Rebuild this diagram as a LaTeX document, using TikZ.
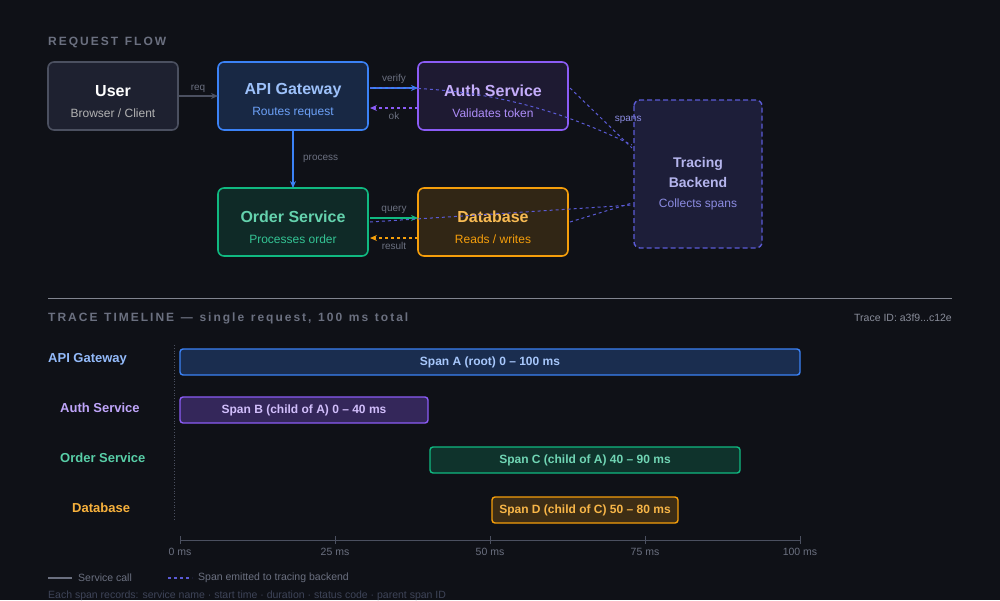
\documentclass[tikz,border=0pt]{standalone}
\usepackage{fontspec}
\setmainfont{Liberation Sans}
\usetikzlibrary{arrows.meta}
\definecolor{bg}{HTML}{0F1117}
\definecolor{muted}{HTML}{6B7080}
\definecolor{gblue}{HTML}{3B82F6}
\definecolor{gpurp}{HTML}{8B5CF6}
\definecolor{ggreen}{HTML}{10B981}
\definecolor{gorange}{HTML}{F59E0B}
\definecolor{span}{HTML}{5B5BD6}
\definecolor{gray1}{HTML}{4B5060}
\definecolor{userfill}{HTML}{1E2130}
\definecolor{foot}{HTML}{3E4458}
\begin{document}
\begin{tikzpicture}[x=1pt,y=-1pt,
 ttl/.style={font=\fontsize{16}{18}\selectfont\bfseries},
 sub/.style={font=\fontsize{12}{14}\selectfont},
 lbl/.style={font=\fontsize{10}{12}\selectfont,text=muted},
 bar/.style={draw,line width=1.4pt,rounded corners=3pt,font=\fontsize{12}{14}\selectfont\bfseries},
 spn/.style={draw=span,dashed,line width=1pt},
 svc/.style={font=\fontsize{13}{15}\selectfont\bfseries,anchor=west,inner sep=0},
 tick/.style={font=\fontsize{10.5}{12}\selectfont,text=muted},
 arr/.style={line width=1.6pt,-{Stealth[length=7pt,width=6pt]}}]
\fill[bg] (0,0) rectangle (1000,600);
\useasboundingbox (0,0) rectangle (1000,600);
\node[anchor=west,inner sep=0,font=\fontsize{12}{14}\selectfont\bfseries,text=muted] (h1) at (48,42) {R\,E\,Q\,U\,E\,S\,T\ \ F\,L\,O\,W};
% boxes
\draw[line width=1.6pt,rounded corners=6pt,draw=gray1,fill=userfill] (48,62) rectangle (178,130);
\node[text=white,ttl] (user) at (113,91) {User};
\node[sub,text=gray!60] (users) at (113,113) {Browser / Client};
\draw[line width=1.6pt,rounded corners=6pt,draw=gblue,fill=gblue!20!bg] (218,62) rectangle (368,130);
\node[ttl,text=gblue!50!white] (api) at (293,91) {API Gateway};
\node[sub,text=gblue!75!white] (apis) at (293,113) {Routes request};
\draw[line width=1.6pt,rounded corners=6pt,draw=gpurp,fill=gpurp!12!bg] (418,62) rectangle (568,130);
\node[ttl,text=gpurp!50!white] (auth) at (493,91) {Auth Service};
\node[sub,text=gpurp!70!white] (auths) at (493,113) {Validates token};
\draw[line width=1.6pt,rounded corners=6pt,draw=ggreen,fill=ggreen!15!bg] (218,188) rectangle (368,256);
\node[ttl,text=ggreen!65!white] (ord) at (293,217) {Order Service};
\node[sub,text=ggreen!85!white] (ords) at (293,239) {Processes order};
\draw[line width=1.6pt,rounded corners=6pt,draw=gorange,fill=gorange!15!bg] (418,188) rectangle (568,256);
\node[ttl,text=gorange!70!white] (db) at (493,217) {Database};
\node[sub,text=gorange] (dbs) at (493,239) {Reads / writes};
\draw[line width=1.4pt,rounded corners=6pt,draw=span,dash pattern=on 5pt off 3pt,fill=span!18!bg] (634,100) rectangle (762,248);
\node[font=\fontsize{14}{20}\selectfont\bfseries,text=span!45!white,align=center] (tr) at (698,172) {Tracing\\Backend};
\node[sub,text=span!70!white] (trs) at (698,204) {Collects spans};
% connectors
\draw[gray1,arr] (178,96) -- (218,96) node[midway,above,lbl,yshift=-1pt]{req};
\draw[gblue,arr] (370,88) -- (418,88) node[midway,above,lbl]{verify};
\draw[gpurp,arr,dashed] (418,108) -- (370,108) node[midway,below,lbl]{ok};
\draw[gblue,arr] (293,130) -- (293,188) node[midway,right,lbl,xshift=6pt]{process};
\draw[ggreen,arr] (370,218) -- (418,218) node[midway,above,lbl]{query};
\draw[gorange,arr,dashed] (418,238) -- (370,238) node[midway,below,lbl]{result};
% span lines
\draw[spn] (370,88) .. controls (480,85) and (560,110) .. (632,145);
\draw[spn] (570,88) -- (632,148) node[pos=0.5,right,font=\fontsize{10}{12}\selectfont,text=span!70!white,xshift=10pt,yshift=-2pt]{spans};
\draw[spn] (370,222) -- (632,205);
\draw[spn] (570,222) -- (632,203);
% divider
\draw[gray1!70,line width=1pt] (48,298) -- (952,298);
\node[anchor=west,inner sep=0,font=\fontsize{12}{14}\selectfont\bfseries,text=muted] (h2) at (48,318) {T\,R\,A\,C\,E\ \ T\,I\,M\,E\,L\,I\,N\,E\ \ —\ \ s\,i\,n\,g\,l\,e\ \ r\,e\,q\,u\,e\,s\,t\,,\ \ 1\,0\,0\ \ m\,s\ \ t\,o\,t\,a\,l};
\node[anchor=east,inner sep=0,font=\fontsize{10.5}{12}\selectfont,text=muted!80] (tid) at (952,318) {Trace ID: a3f9...c12e};
% timeline
\node[svc,text=gblue!55!white] (l1) at (48,359) {API Gateway};
\node[svc,text=gpurp!55!white] (l2) at (60,408) {Auth Service};
\node[svc,text=ggreen!70!white] (l3) at (60,458) {Order Service};
\node[svc,text=gorange!80!white] (l4) at (72,508) {Database};
\draw[gray1,dotted,line width=0.8pt] (174,345) -- (174,520);
\draw[bar,draw=gblue,fill=gblue!25!bg,text=gblue!45!white] (180,349) rectangle node (sa){Span A (root) 0 – 100 ms} (800,375);
\draw[bar,draw=gpurp,fill=gpurp!30!bg,text=gpurp!40!white] (180,397) rectangle node (sb){Span B (child of A) 0 – 40 ms} (428,423);
\draw[bar,draw=ggreen,fill=ggreen!20!bg,text=ggreen!60!white] (430,447) rectangle node (sc){Span C (child of A) 40 – 90 ms} (740,473);
\draw[bar,draw=gorange,fill=gorange!20!bg,text=gorange!75!white] (492,497) rectangle node (sd){Span D (child of C) 50 – 80 ms} (678,523);
\draw[gray1,line width=1pt] (180,540) -- (800,540);
\foreach \v/\x in {0/180,25/335,50/490,75/645,100/800}{
 \draw[gray1,line width=1pt] (\x,536) -- (\x,544);
 \node[tick] (t\v) at (\x,552) {\v{} ms};}
% legend
\draw[muted,line width=1.4pt] (48,578) -- (72,578);
\node[anchor=west,inner sep=0,tick] (lg1) at (78,578) {Service call};
\draw[span,line width=1.4pt,dashed] (168,578) -- (192,578);
\node[anchor=west,inner sep=0,tick] (lg2) at (198,578) {Span emitted to tracing backend};
\node[anchor=west,inner sep=0,tick,text=foot] (foot) at (48,596) {Each span records: service name · start time · duration · status code · parent span ID};
\end{tikzpicture}
\end{document}
